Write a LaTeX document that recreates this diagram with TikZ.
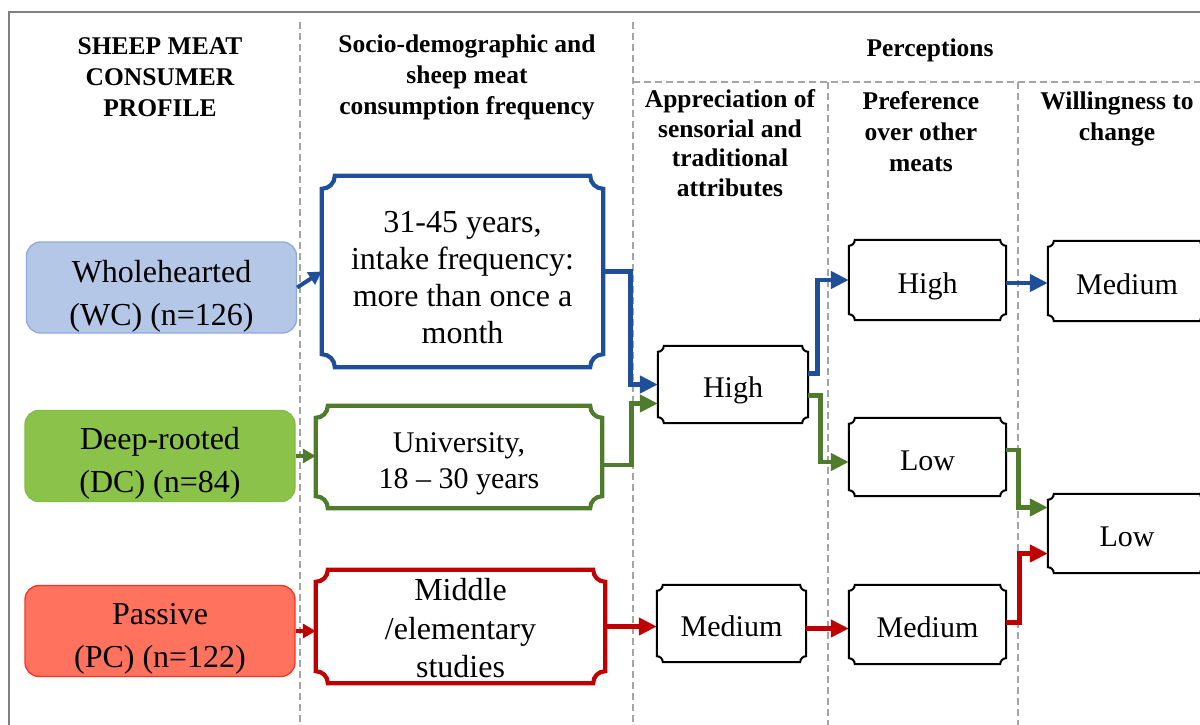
\documentclass[tikz,border=0pt]{standalone}
\usepackage{fontspec}
\setmainfont{Liberation Serif}
\usetikzlibrary{arrows.meta}
\definecolor{cblue}{RGB}{31,78,155}
\definecolor{cgreen}{RGB}{78,124,44}
\definecolor{cred}{RGB}{192,0,0}
\definecolor{wcfill}{RGB}{180,199,231}
\definecolor{wcdraw}{RGB}{143,170,220}
\definecolor{dcfill}{RGB}{139,195,74}
\definecolor{dcdraw}{RGB}{130,188,66}
\definecolor{pcfill}{RGB}{255,114,94}
\definecolor{pcdraw}{RGB}{250,50,35}
\definecolor{dashgray}{RGB}{165,165,165}
\definecolor{framegray}{RGB}{128,128,128}
\newcommand\bodyfont{\fontsize{32}{43}\selectfont}
\newcommand\smallbody{\fontsize{30}{36}\selectfont}
\newcommand\headfont{\fontsize{25.5}{31}\selectfont\bfseries}
\newcommand\topstrut[1]{\rule{0pt}{#1}}
\newcommand\plaquebox[3]{%
  \draw[#2] ([yshift=-#3]#1.north west) arc[start angle=270,end angle=360,radius=#3]
    -- ([xshift=-#3]#1.north east) arc[start angle=180,end angle=270,radius=#3]
    -- ([yshift=#3]#1.south east) arc[start angle=90,end angle=180,radius=#3]
    -- ([xshift=#3]#1.south west) arc[start angle=0,end angle=90,radius=#3] -- cycle;}
\tikzset{
  profile/.style={rounded corners=14pt, line width=1.3pt, align=center, inner sep=0pt,
    minimum width=270pt, minimum height=91pt, font=\bodyfont},
  bigbox/.style={align=center, inner sep=0pt, font=\bodyfont},
  smallbox/.style={align=center, inner sep=0pt, font=\smallbody},
  word/.style={inner sep=0pt, font=\smallbody, text height=30pt, text depth=4pt},
  header/.style={align=center, inner sep=0pt, font=\headfont},
  sep/.style={dashgray, line width=1.8pt, dash pattern=on 7pt off 4pt},
  bigline/.style={line width=4.2pt},
  smallline/.style={line width=2pt, black},
  flow/.style={line width=4.8pt, -{Triangle[length=18pt,width=17pt]}},
  shortflow/.style={line width=4pt, -{Triangle[length=13pt,width=14pt]}},
}
\begin{document}
\begin{tikzpicture}[x=1pt,y=-1pt]
\useasboundingbox (0,0) rectangle (1200,725);
\clip (0,0) rectangle (1200,725);
% frame
\draw[framegray, line width=2pt] (9,12) rectangle (1230,760);
% separators
\draw[sep] (300,22) -- (300,725);
\draw[sep] (633,22) -- (633,725);
\draw[sep] (633,82) -- (1200,82);
\draw[sep] (828,82) -- (828,725);
\draw[sep] (1018,82) -- (1018,725);
% headers
\node[header] (h1) at (160,77) {SHEEP MEAT\\CONSUMER\\PROFILE};
\node[header] (h2) at (467,77) {Socio-demographic and\\sheep meat\\consumption frequency};
\node[header] (h3) at (930,50) {Perceptions};
\node[header, font=\fontsize{25.5}{29.5}\selectfont\bfseries] (h4) at (730,143) {Appreciation of\\sensorial and\\traditional\\attributes};
\node[header] (h5) at (921,132) {Preference\\over other\\meats};
\node[header] (h6) at (1117,119) {Willingness to\\change};
% profiles
\node[profile, fill=wcfill, draw=wcdraw] (wc) at (161.5,287.5) {\topstrut{39pt}Wholehearted\\(WC) (n=126)};
\node[profile, fill=dcfill, draw=dcdraw] (dc) at (160,456) {\topstrut{37pt}Deep-rooted\\(DC) (n=84)};
\node[profile, fill=pcfill, draw=pcdraw] (pc) at (160,631) {\topstrut{37pt}Passive\\(PC) (n=122)};
% socio-demographic boxes
\node[bigbox, font=\fontsize{32}{37}\selectfont, minimum width=281pt, minimum height=191pt] (sb) at (462.5,271.5) {\topstrut{34pt}31-45 years,\\intake frequency:\\more than once a\\month};
\plaquebox{sb}{cblue, bigline}{13pt}
\node[smallbox, minimum width=286pt, minimum height=102pt] (sg) at (459,457) {\topstrut{32.5pt}University,\\18 -- 30 years};
\plaquebox{sg}{cgreen, bigline}{12pt}
\node[bigbox, font=\fontsize{32}{38.5}\selectfont, minimum width=289pt, minimum height=113pt] (sr) at (460.5,626.5) {\topstrut{26pt}Middle\\/elementary\\studies};
\plaquebox{sr}{cred, bigline}{12pt}
% appreciation
\node[word, minimum width=150pt, minimum height=77pt] (ah) at (733,384.5) {High};
\plaquebox{ah}{smallline}{6pt}
\node[word, minimum width=149pt, minimum height=77pt] (am) at (731.5,623.5) {Medium};
\plaquebox{am}{smallline}{6pt}
% preference
\node[word, minimum width=157pt, minimum height=80pt] (ph) at (927.5,280) {High};
\plaquebox{ph}{smallline}{6pt}
\node[word, minimum width=157pt, minimum height=78pt] (pl) at (927.5,457) {Low};
\plaquebox{pl}{smallline}{6pt}
\node[word, minimum width=157pt, minimum height=79pt] (pm) at (927.5,624.5) {Medium};
\plaquebox{pm}{smallline}{6pt}
% willingness
\node[word, minimum width=158pt, minimum height=80pt] (wm) at (1127,281) {Medium};
\plaquebox{wm}{smallline}{6pt}
\node[word, minimum width=158pt, minimum height=79pt] (wl) at (1127,533.5) {Low};
\plaquebox{wl}{smallline}{6pt}
% connectors
\draw[shortflow, cblue] (wc.east) -- (sb.west);
\draw[shortflow, cgreen] (dc.east) -- (dc.east -| sg.west);
\draw[shortflow, cred] (pc.east) -- (pc.east -| sr.west);
\draw[flow, cblue] (sb.east) -- ++(27,0) |- (ah.west);
\draw[flow, cgreen] ([yshift=-8pt]sg.east) -- ++(29,0) |- ([yshift=-19pt]ah.west);
\draw[flow, cred] (sr.east) -- (sr.east -| am.west);
\draw[flow, cblue] ([yshift=11pt]ah.east) -- ++(9,0) |- (ph.west);
\draw[flow, cgreen] ([yshift=-11pt]ah.east) -- ++(12,0) |- ([yshift=-5pt]pl.west);
\draw[flow, cred] ([yshift=-5pt]am.east) -- ([yshift=-5pt]am.east -| pm.west);
\draw[flow, cblue] ([yshift=-3pt]ph.east) -- ([yshift=-3pt]ph.east -| wm.west);
\draw[flow, cgreen] ([yshift=7pt]pl.east) -- ++(12,0) |- ([yshift=26pt]wl.west);
\draw[flow, cred] ([yshift=2pt]pm.east) -- ++(13,0) |- ([yshift=-20pt]wl.west);
\end{tikzpicture}
\end{document}
